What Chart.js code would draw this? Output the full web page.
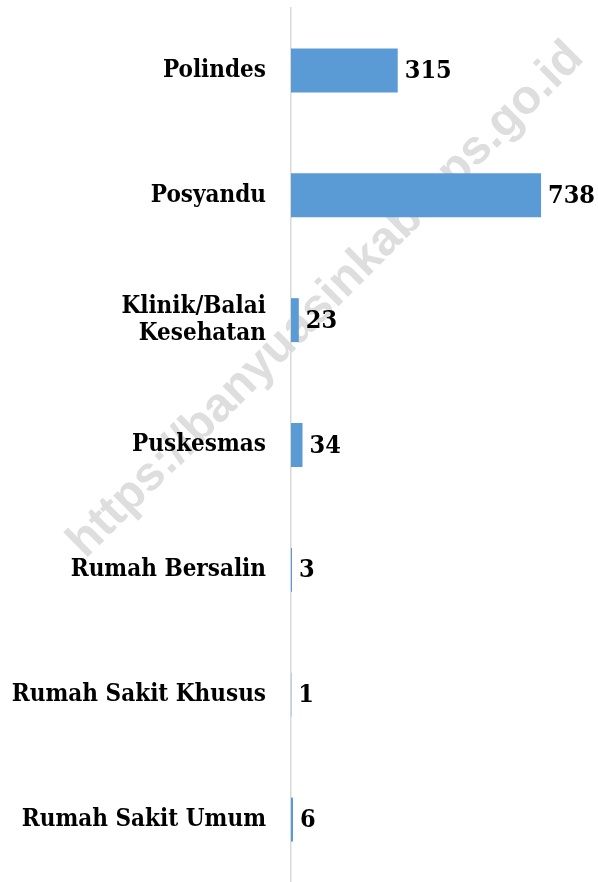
<!DOCTYPE html>
<html>
<head>
<meta charset="utf-8">
<script src="https://cdn.jsdelivr.net/npm/chart.js@4.4.0/dist/chart.umd.min.js"></script>
<style>
html,body{margin:0;padding:0;background:#fff;}
#wrap{width:598px;height:882px;position:relative;}
</style>
</head>
<body>
<div id="wrap"><canvas id="c" width="598" height="882"></canvas></div>
<script>
const categories = [
  "Polindes",
  "Posyandu",
  ["Klinik/Balai", "Kesehatan"],
  "Puskesmas",
  "Rumah Bersalin",
  "Rumah Sakit Khusus",
  "Rumah Sakit Umum"
];
const values = [315, 738, 23, 34, 3, 1, 6];
const watermarkText = "https://banyuasinkab.bps.go.id";

const labelFont = 'bold 25px "DejaVu Serif Condensed", "DejaVu Serif", serif';

const watermark = {
  id: 'watermark',
  beforeDraw(chart) {
    const ctx = chart.ctx;
    ctx.save();
    ctx.translate(326, 300);
    ctx.rotate(-Math.PI / 4);
    ctx.font = 'bold 48px "Liberation Sans", Arial, sans-serif';
    ctx.fillStyle = '#dedede';
    ctx.textAlign = 'center';
    ctx.textBaseline = 'middle';
    ctx.fillText(watermarkText, 0, 0);
    ctx.restore();
  }
};

const valueLabels = {
  id: 'valueLabels',
  afterDatasetsDraw(chart) {
    const ctx = chart.ctx;
    const meta = chart.getDatasetMeta(0);
    ctx.save();
    ctx.font = labelFont;
    ctx.fillStyle = '#000';
    ctx.textAlign = 'left';
    ctx.textBaseline = 'middle';
    meta.data.forEach((bar, i) => {
      ctx.fillText(String(values[i]), bar.x + 7, bar.y + 1);
    });
    ctx.restore();
  }
};

new Chart(document.getElementById('c'), {
  type: 'bar',
  data: {
    labels: categories,
    datasets: [{
      data: values,
      backgroundColor: '#5B9BD5',
      borderWidth: 0,
      categoryPercentage: 1,
      barPercentage: 0.352
    }]
  },
  options: {
    indexAxis: 'y',
    responsive: false,
    animation: false,
    layout: { padding: { top: 8, bottom: -1, left: 0, right: 0 } },
    plugins: { legend: { display: false }, tooltip: { enabled: false } },
    scales: {
      x: {
        min: 0, max: 906,
        display: false,
        grid: { display: false }
      },
      y: {
        afterFit(scale) {
          scale.width = 291;
          scale.paddingTop = 0;
          scale.paddingBottom = 0;
        },
        grid: { display: false, drawTicks: false },
        border: { display: true, color: '#d9d9d9', width: 1.5 },
        ticks: {
          padding: 25,
          color: '#000',
          font: { family: '"DejaVu Serif Condensed", "DejaVu Serif", serif', size: 24, weight: 'bold', lineHeight: 1.13 }
        }
      }
    }
  },
  plugins: [watermark, valueLabels]
});
</script>
</body>
</html>
